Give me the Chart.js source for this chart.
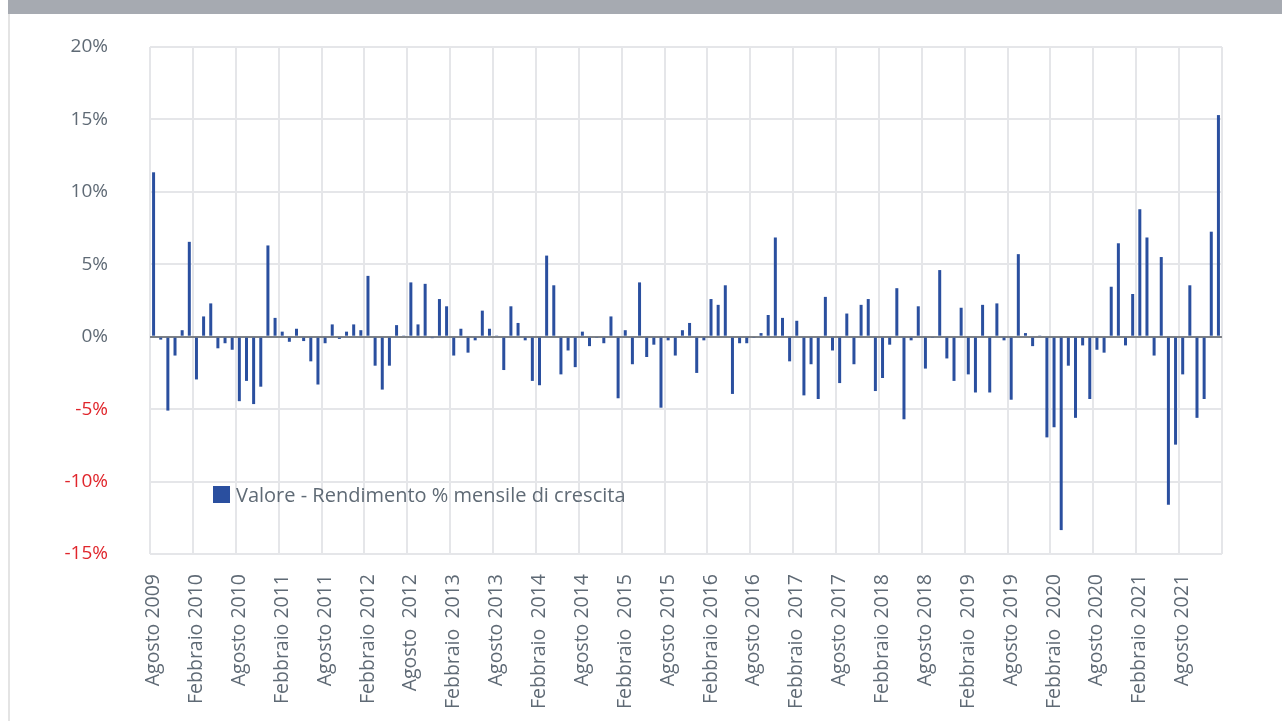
<!DOCTYPE html>
<html lang="it">
<head>
<meta charset="utf-8">
<title>Rendimento % mensile di crescita</title>
<script src="https://cdn.jsdelivr.net/npm/chart.js@4.4.1/dist/chart.umd.min.js"></script>
<style>
  html, body { margin: 0; padding: 0; background: #ffffff; width: 1282px; height: 721px; overflow: hidden; }
  #hdr { position: absolute; left: 8px; top: 0; width: 1274px; height: 14px; background: #a6aab1; }
  #frame { position: absolute; left: 8px; top: 14px; height: 707px; border-left: 2px solid #e4e4e4; }
  #wrap { position: absolute; left: 0; top: 0; width: 1282px; height: 721px; }
  #legend { position: absolute; left: 213px; top: 480px; height: 28px; display: flex; align-items: center;
            font: 20px 'Open Sans', 'Noto Sans', sans-serif; color: #5f6a75; white-space: pre; }
  #legend .sw { width: 17px; height: 17px; margin-right: 6px; }
</style>
</head>
<body>
<div id="hdr"></div>
<div id="frame"></div>
<div id="wrap"><canvas id="c" width="1282" height="721"></canvas></div>
<div id="legend"></div>
<script>
// Monthly series, August 2009 to January 2022 (150 months)
const monthNames = ['Gennaio', 'Febbraio', 'Marzo', 'Aprile', 'Maggio', 'Giugno',
  'Luglio', 'Agosto', 'Settembre', 'Ottobre', 'Novembre', 'Dicembre'];
const startYear = 2009;
const startMonth = 7; // Agosto
const monthCount = 150;

// Axis labels shown every six months
const tickLabels = [
  'Agosto 2009', 'Febbraio 2010', 'Agosto 2010', 'Febbraio 2011', 'Agosto 2011',
  'Febbraio 2012', 'Agosto  2012', 'Febbraio  2013', 'Agosto 2013', 'Febbraio  2014',
  'Agosto 2014', 'Febbraio  2015', 'Agosto 2015', 'Febbraio 2016', 'Agosto 2016',
  'Febbraio  2017', 'Agosto 2017', 'Febbraio 2018', 'Agosto 2018', 'Febbraio  2019',
  'Agosto 2019', 'Febbraio  2020', 'Agosto 2020', 'Febbraio 2021', 'Agosto 2021'
];

const seriesLabel = 'Valore - Rendimento % mensile di crescita';

// Monthly return, percent
const values = [
  11.35, -0.2, -5.1, -1.3, 0.45, 6.55, -2.95, 1.4, 2.3, -0.8, -0.45, -0.9,
  -4.45, -3.05, -4.65, -3.45, 6.3, 1.3, 0.35, -0.35, 0.55, -0.3, -1.7, -3.3,
  -0.45, 0.85, -0.15, 0.35, 0.85, 0.45, 4.2, -2.0, -3.65, -2.0, 0.8, 0.05,
  3.75, 0.85, 3.65, -0.1, 2.6, 2.1, -1.3, 0.55, -1.1, -0.25, 1.8, 0.55,
  0.05, -2.3, 2.1, 0.95, -0.25, -3.05, -3.35, 5.6, 3.55, -2.6, -0.95, -2.1,
  0.35, -0.65, -0.05, -0.45, 1.4, -4.25, 0.45, -1.9, 3.75, -1.4, -0.55, -4.9,
  -0.25, -1.3, 0.45, 0.95, -2.5, -0.25, 2.6, 2.2, 3.55, -3.95, -0.45, -0.45,
  -0.05, 0.25, 1.5, 6.85, 1.3, -1.7, 1.1, -4.05, -1.9, -4.3, 2.75, -0.95,
  -3.2, 1.6, -1.9, 2.2, 2.6, -3.75, -2.85, -0.55, 3.35, -5.7, -0.25, 2.1,
  -2.2, -0.05, 4.6, -1.5, -3.05, 2.0, -2.6, -3.85, 2.2, -3.85, 2.3, -0.25,
  -4.35, 5.7, 0.25, -0.65, 0.05, -6.95, -6.25, -13.35, -2.0, -5.6, -0.6, -4.3,
  -0.9, -1.1, 3.45, 6.45, -0.6, 2.95, 8.8, 6.85, -1.3, 5.5, -11.6, -7.45,
  -2.6, 3.55, -5.6, -4.3, 7.25, 15.3
];

const categories = [];
for (let i = 0; i < monthCount; i++) {
  const m = (startMonth + i) % 12;
  const y = startYear + Math.floor((startMonth + i) / 12);
  categories.push(monthNames[m] + ' ' + y);
}

const barColor = '#2a4f9f';
const textGray = '#5f6a75';
const negRed = '#e0262c';
const gridGray = '#e5e6e9';
const zeroGray = '#7d8186';
const fontFamily = "'Open Sans', 'Noto Sans', sans-serif";

const chart = new Chart(document.getElementById('c'), {
  type: 'bar',
  data: {
    labels: categories,
    datasets: [{
      label: seriesLabel,
      data: values,
      backgroundColor: barColor,
      borderWidth: 0,
      barPercentage: 0.42,
      categoryPercentage: 1.0
    }]
  },
  options: {
    responsive: false,
    devicePixelRatio: 1,
    animation: false,
    layout: { padding: { left: 0, right: 60, top: 47, bottom: 0 } },
    plugins: {
      legend: { display: false },
      tooltip: { enabled: false }
    },
    scales: {
      x: {
        type: 'category',
        offset: true,
        border: { display: false },
        grid: {
          offset: true,
          drawTicks: false,
          lineWidth: 2,
          color: (ctx) => (ctx.type !== 'tick' || ctx.index % 6 === 0) ? gridGray : 'rgba(0,0,0,0)'
        },
        ticks: {
          autoSkip: false,
          maxRotation: 90,
          minRotation: 90,
          padding: 20,
          color: textGray,
          font: { family: fontFamily, size: 19.5 },
          callback: (v, i) => (i % 6 === 0 ? tickLabels[i / 6] : '')
        },
        afterFit: (scale) => {
          scale.height = 167;
          scale.paddingLeft = 0;
          scale.paddingRight = 0;
        }
      },
      y: {
        min: -15,
        max: 20,
        border: { display: false },
        grid: {
          drawTicks: false,
          lineWidth: 2,
          color: (ctx) => (ctx.tick && ctx.tick.value === 0) ? zeroGray : gridGray
        },
        ticks: {
          stepSize: 5,
          padding: 42,
          color: (ctx) => (ctx.tick && ctx.tick.value < 0) ? negRed : textGray,
          font: { family: fontFamily, size: 19 },
          callback: (v) => v + '%'
        },
        afterFit: (scale) => {
          scale.width = 150;
          scale.paddingTop = 0;
          scale.paddingBottom = 0;
        }
      }
    }
  }
});

// Legend built from the dataset
const legend = document.getElementById('legend');
chart.data.datasets.forEach((ds) => {
  const sw = document.createElement('span');
  sw.className = 'sw';
  sw.style.background = ds.backgroundColor;
  const tx = document.createElement('span');
  tx.textContent = ds.label;
  legend.appendChild(sw);
  legend.appendChild(tx);
});
</script>
</body>
</html>
